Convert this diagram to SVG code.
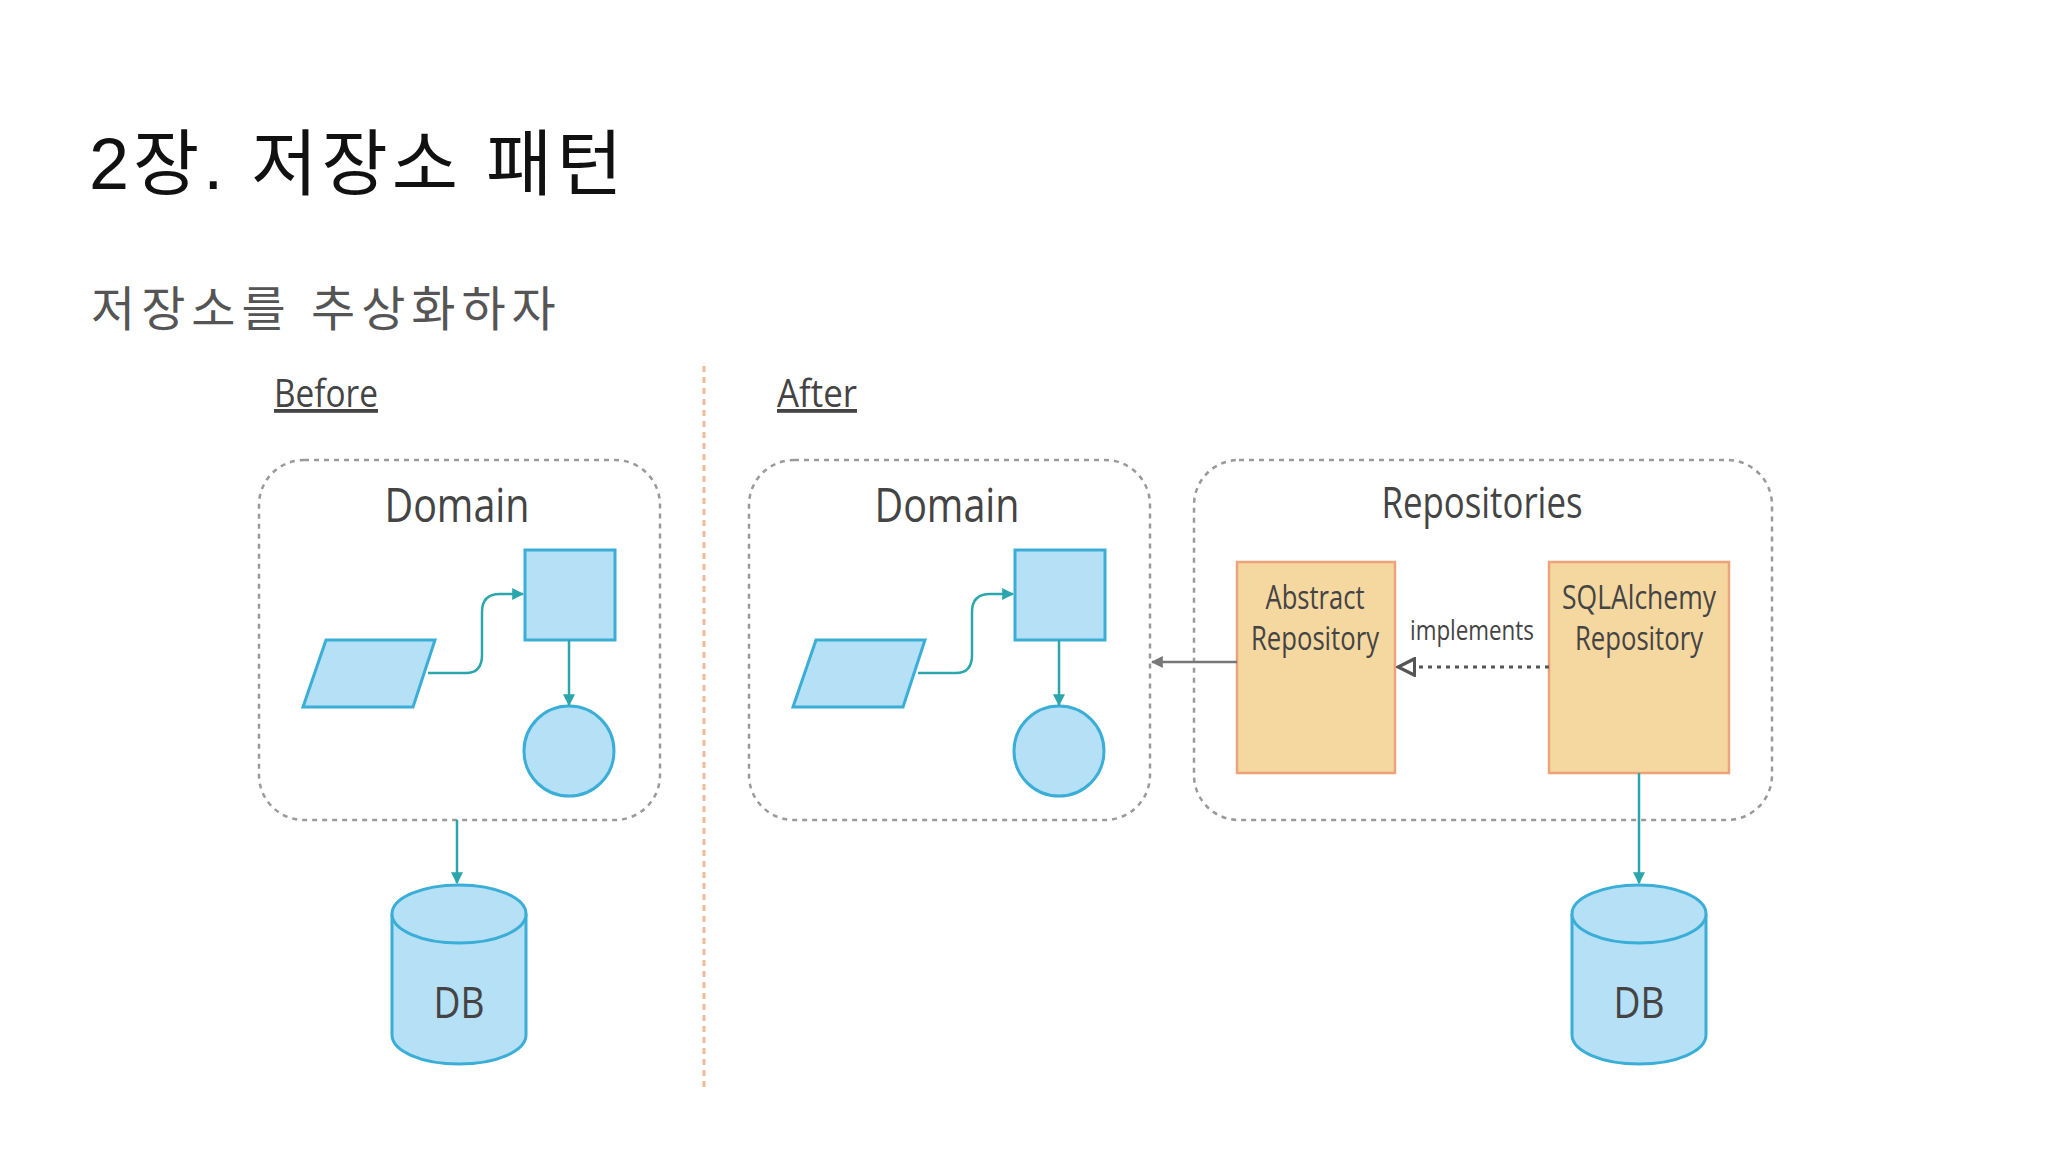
<svg xmlns="http://www.w3.org/2000/svg" width="2048" height="1152" viewBox="0 0 2048 1152">
<defs>
<style>
.t{font-family:"Open Sans","Liberation Sans",sans-serif;fill:#444;text-anchor:middle}
.k{font-family:"Liberation Sans","Noto Sans CJK KR",sans-serif}
.box{fill:none;stroke:#9a9a9a;stroke-width:2.5;stroke-dasharray:5 5}
.sh{fill:#b5e0f6;stroke:#3aaed6;stroke-width:3}
.ar{fill:none;stroke:#2ba6ad;stroke-width:2.5}
.rep{fill:#f5d7a0;stroke:#eea27a;stroke-width:2.5}
</style>
<marker id="ta" viewBox="0 0 10 10" refX="9" refY="5" markerWidth="12" markerHeight="12" markerUnits="userSpaceOnUse" orient="auto"><path d="M0,0 L10,5 L0,10 z" fill="#2ba6ad"/></marker>
<marker id="ga" viewBox="0 0 10 10" refX="9" refY="5" markerWidth="12" markerHeight="12" markerUnits="userSpaceOnUse" orient="auto"><path d="M0,0 L10,5 L0,10 z" fill="#777"/></marker>
<marker id="ha" viewBox="0 0 12 12" refX="11" refY="6" markerWidth="20" markerHeight="20" markerUnits="userSpaceOnUse" orient="auto"><path d="M1,1 L11,6 L1,11 z" fill="#fff" stroke="#555" stroke-width="2"/></marker>
</defs>
<rect width="2048" height="1152" fill="#fff"/>
<text class="k" x="89" y="189" font-size="72" fill="#111" letter-spacing="4">2장. 저장소 패턴</text>
<text class="k" x="91" y="326" font-size="48" fill="#555" letter-spacing="6">저장소를 추상화하자</text>
<text class="t" x="326" y="407" font-size="38" text-decoration="underline" textLength="104" lengthAdjust="spacingAndGlyphs">Before</text>
<text class="t" x="817" y="407" font-size="38" text-decoration="underline" textLength="80" lengthAdjust="spacingAndGlyphs">After</text>
<line x1="704" y1="366" x2="704" y2="1092" stroke="#f4b99a" stroke-width="3" stroke-dasharray="6 5"/>
<g id="before-domain">
<rect class="box" x="259" y="460" width="401" height="360" rx="45"/>
<text class="t" x="457" y="522" font-size="48" textLength="145" lengthAdjust="spacingAndGlyphs">Domain</text>
<polygon class="sh" points="326,640 435,640 413,707 303,707"/>
<rect class="sh" x="525" y="550" width="90" height="90"/>
<circle class="sh" cx="569" cy="751" r="45"/>
</g>
<g id="before-db">
<path class="sh" d="M392,914 L392,1035 A67,29 0 0 0 526,1035 L526,914"/>
<ellipse class="sh" cx="459" cy="914" rx="67" ry="29"/>
<text class="t" x="459" y="1018" font-size="44" textLength="51" lengthAdjust="spacingAndGlyphs">DB</text>
</g>
<g id="after-domain">
<rect class="box" x="749" y="460" width="401" height="360" rx="45"/>
<text class="t" x="947" y="522" font-size="48" textLength="145" lengthAdjust="spacingAndGlyphs">Domain</text>
<polygon class="sh" points="816,640 925,640 903,707 793,707"/>
<rect class="sh" x="1015" y="550" width="90" height="90"/>
<circle class="sh" cx="1059" cy="751" r="45"/>
</g>
<g id="repositories">
<rect class="box" x="1194" y="460" width="578" height="360" rx="45"/>
<text class="t" x="1482" y="518" font-size="44" textLength="201" lengthAdjust="spacingAndGlyphs">Repositories</text>
</g>
<g id="abstract-repo">
<rect class="rep" x="1237" y="562" width="158" height="211"/>
<text class="t" x="1315" y="609" font-size="32" textLength="99" lengthAdjust="spacingAndGlyphs">Abstract</text>
<text class="t" x="1315" y="650" font-size="32" textLength="128" lengthAdjust="spacingAndGlyphs">Repository</text>
</g>
<g id="sqla-repo">
<rect class="rep" x="1549" y="562" width="180" height="211"/>
<text class="t" x="1639" y="609" font-size="32" textLength="154" lengthAdjust="spacingAndGlyphs">SQLAlchemy</text>
<text class="t" x="1639" y="650" font-size="32" textLength="128" lengthAdjust="spacingAndGlyphs">Repository</text>
</g>
<g id="after-db">
<path class="sh" d="M1572,914 L1572,1035 A67,29 0 0 0 1706,1035 L1706,914"/>
<ellipse class="sh" cx="1639" cy="914" rx="67" ry="29"/>
<text class="t" x="1639" y="1018" font-size="44" textLength="51" lengthAdjust="spacingAndGlyphs">DB</text>
</g>
<g id="connectors">
<path class="ar" marker-end="url(#ta)" d="M428,673 L466,673 Q482,673 482,655 L482,612 Q482,594 500,594 L523,594"/>
<path class="ar" marker-end="url(#ta)" d="M569,640 L569,705"/>
<path class="ar" marker-end="url(#ta)" d="M457,820 L457,883"/>
<path class="ar" marker-end="url(#ta)" d="M918,673 L956,673 Q972,673 972,655 L972,612 Q972,594 990,594 L1013,594"/>
<path class="ar" marker-end="url(#ta)" d="M1059,640 L1059,705"/>
<path class="ar" marker-end="url(#ta)" d="M1639,773 L1639,883"/>
<path d="M1237,662 L1152,662" stroke="#777" stroke-width="2.5" fill="none" marker-end="url(#ga)"/>
<path d="M1549,667 L1398,667" stroke="#555" stroke-width="3" stroke-dasharray="4 5" fill="none" marker-end="url(#ha)"/>
<text class="t" x="1472" y="640" font-size="27" textLength="124" lengthAdjust="spacingAndGlyphs">implements</text>
</g>
</svg>
